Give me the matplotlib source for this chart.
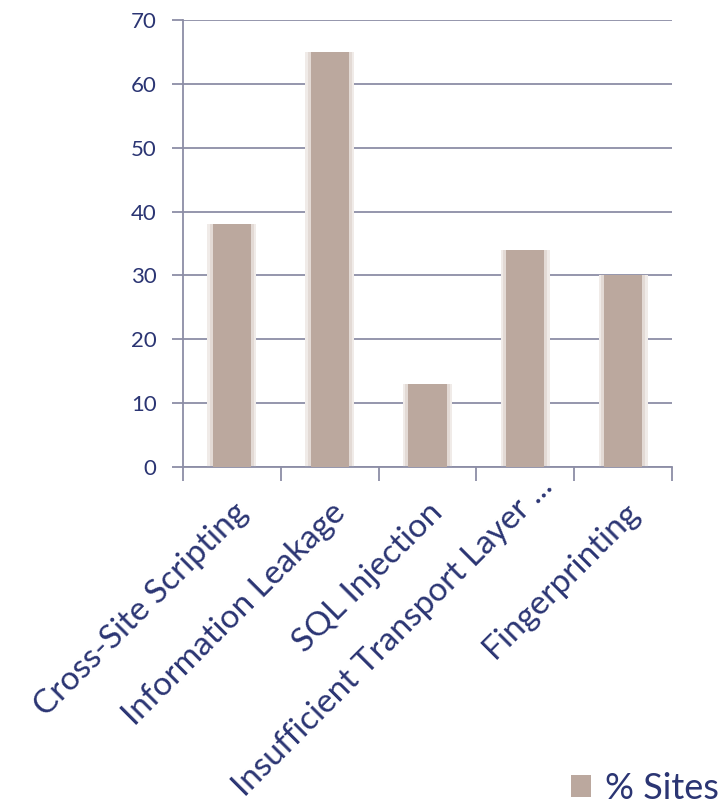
import matplotlib
matplotlib.use("Agg")
import matplotlib.pyplot as plt
from matplotlib.patches import Patch
from matplotlib.transforms import ScaledTranslation

categories = ["Cross-Site Scripting", "Information Leakage", "SQL Injection",
              "Insufficient Transport Layer ...", "Fingerprinting"]
values = [38, 65, 13, 34, 30]
yticks = [0, 10, 20, 30, 40, 50, 60, 70]
series_name = "% Sites"

plt.rcParams['font.family'] = ['Lato', 'DejaVu Sans']
text_color = "#2b3573"
grid_color = "#8c8ea6"
bar_color = "#bba89e"

fig = plt.figure(figsize=(7.24, 8.05), dpi=100)
ax = fig.add_axes([183/724, 1-467/805, (672-183)/724, (467-20)/805])

x = list(range(len(categories)))
# soft shadow behind bars
ax.bar(x, values, width=0.50, color="#f0ebe8", zorder=2)
ax.bar(x, values, width=0.45, color="#e3dad5", zorder=2)
ax.bar(x, values, width=0.39, color=bar_color, zorder=3)

ax.set_xlim(-0.5, len(categories) - 0.5)
ax.set_ylim(0, 70)
ax.set_yticks(yticks)
ax.set_yticklabels([str(v) for v in yticks], fontsize=16, color=text_color)
ax.yaxis.grid(True, color=grid_color, linewidth=1.3, zorder=1)
ax.set_axisbelow(True)

ax.set_xticks([i - 0.5 for i in range(len(categories) + 1)], minor=False)
ax.set_xticklabels([])
ax.set_xticks(x, minor=True)
labels = ax.set_xticklabels(categories, minor=True, rotation=45, ha='right',
                            rotation_mode='anchor', fontsize=24, color=text_color)
ax.tick_params(axis='x', which='minor', length=0, pad=22)
ax.tick_params(axis='x', which='major', length=10, width=1.3, color=grid_color, direction='out')
ax.tick_params(axis='y', length=8, width=1.3, color=grid_color, pad=11)

# long truncated label sits a little further up, as in the original
labels[3].set_transform(labels[3].get_transform() +
                        ScaledTranslation(0.12, 0.26, fig.dpi_scale_trans))

for s in ['top', 'right']:
    ax.spines[s].set_visible(False)
for s in ['left', 'bottom']:
    ax.spines[s].set_color(grid_color)
    ax.spines[s].set_linewidth(1.3)

handle = Patch(facecolor=bar_color, edgecolor='none')
leg = fig.legend([handle], [series_name], loc='lower right',
                 bbox_to_anchor=(719/724, 0.0), frameon=False, fontsize=26,
                 handlelength=0.55, handleheight=0.55, handletextpad=0.4,
                 borderpad=0.0, borderaxespad=0.0,
                 labelcolor=text_color)

fig.savefig("out.png", dpi=100)
